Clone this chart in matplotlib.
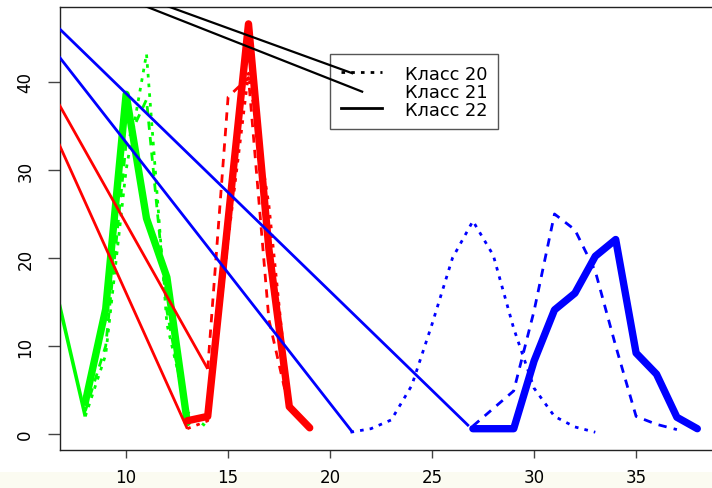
import matplotlib
matplotlib.use("Agg")
from matplotlib import pyplot as plt
from matplotlib.lines import Line2D
from matplotlib.patches import Rectangle

# class 20 = dotted, class 21 = dashed, class 22 = thick solid
green_x20 = [8, 9, 10, 11, 12, 13, 14]
green_y20 = [2.0, 9.0, 30.0, 43.2, 12.5, 2.5, 0.7]
green_x21 = [8, 9, 10, 11, 12, 13]
green_y21 = [2.6, 10.0, 33.0, 38.0, 14.0, 1.5]
green_x22 = [8, 9, 10, 11, 12, 13]
green_y22 = [3.6, 14.2, 38.6, 24.5, 17.8, 1.3]

red_x20 = [13, 14, 15, 16, 17, 18, 19]
red_y20 = [0.6, 1.5, 22.0, 41.0, 26.0, 3.2, 0.8]
red_x21 = [14, 15, 16, 17, 18]
red_y21 = [7.4, 38.3, 40.5, 13.0, 2.8]
red_x22 = [13, 14, 15, 16, 17, 18, 19]
red_y22 = [1.5, 2.0, 24.3, 46.6, 21.0, 3.1, 0.7]

blue_x20 = [21, 22, 23, 24, 25, 26, 27, 28, 29, 30, 31, 32, 33]
blue_y20 = [0.2, 0.6, 1.6, 5.5, 12.5, 20.0, 24.2, 20.3, 12.0, 5.2, 2.0, 0.8, 0.2]
blue_x21 = [27, 28, 29, 30, 31, 32, 33, 34, 35, 36, 37]
blue_y21 = [0.9, 2.9, 4.9, 14.0, 25.0, 23.2, 18.5, 10.0, 2.0, 1.1, 0.5]
blue_x22 = [27, 28, 29, 30, 31, 32, 33, 34, 35, 36, 37, 38]
blue_y22 = [0.6, 0.6, 0.6, 8.3, 14.1, 16.0, 20.2, 22.1, 9.2, 6.8, 1.9, 0.6]

# straight thin lines that come in from the left edge
conn_green = [([6.0, 8.0], [22.0, 2.0])]
conn_red = [([6.0, 14.0], [40.4, 7.4]), ([6.0, 13.0], [36.6, 0.6])]
conn_blue = [([6.0, 26.8], [47.7, 0.9]), ([6.0, 21.1], [45.0, 0.2])]
conn_black = [([8.0, 21.57], [51.3, 38.9]), ([8.0, 21.08], [52.0, 41.0])]

labels = ["Класс 20", "Класс 21", "Класс 22"]

DOT = (0, (1.3, 2.2))
DASH = (0, (3.0, 2.6))

fig = plt.figure(figsize=(7.12, 4.89), dpi=100)
fig.patches.append(Rectangle((0, 0), 1, 16 / 489, transform=fig.transFigure,
                             facecolor="#fbfbf1", edgecolor="none", zorder=-10))
ax = fig.add_axes([60 / 712, 38 / 489, 683 / 712, 443 / 489])

groups = [
    ("#00ff00", green_x20, green_y20, green_x21, green_y21, green_x22, green_y22, conn_green, 2.6),
    ("#ff0000", red_x20, red_y20, red_x21, red_y21, red_x22, red_y22, conn_red, 2.0),
    ("#0000ff", blue_x20, blue_y20, blue_x21, blue_y21, blue_x22, blue_y22, conn_blue, 2.0),
]
z = 2
for col, x20, y20, x21, y21, x22, y22, conns, clw in groups:
    for cx, cy in conns:
        ax.plot(cx, cy, color=col, lw=clw, zorder=z, solid_capstyle="butt")
    ax.plot(x20, y20, color=col, lw=2.0, linestyle=DOT, dash_capstyle="butt", zorder=z)
    ax.plot(x21, y21, color=col, lw=2.0, linestyle=DASH, dash_capstyle="butt", zorder=z)
    ax.plot(x22, y22, color=col, lw=5.3, solid_capstyle="round",
            solid_joinstyle="round", zorder=z + 0.5)
    z += 1

handles = [
    Line2D([], [], color="black", lw=2.0, linestyle=DOT, dash_capstyle="butt"),
    Line2D([], [], color="black", lw=2.0, linestyle="none"),
    Line2D([], [], color="black", lw=2.0),
]
leg = ax.legend(handles, labels, loc="upper left",
                bbox_to_anchor=(330 / 712, 1 - 55 / 489), bbox_transform=fig.transFigure,
                borderaxespad=0, fontsize=12.8, handlelength=2.3, handletextpad=1.3,
                labelspacing=0.0, borderpad=0.6, fancybox=False, framealpha=1,
                edgecolor="#555555")
leg.get_frame().set_linewidth(1.0)
leg.set_zorder(8)

for cx, cy in conn_black:
    ax.plot(cx, cy, color="black", lw=1.6, zorder=9)

ax.set_xlim(6.76, 40.24)
ax.set_ylim(-1.82, 48.52)
ax.set_xticks([10, 15, 20, 25, 30, 35])
ax.set_yticks([0, 10, 20, 30, 40])
ax.tick_params(axis="x", direction="out", length=6, width=1.0, pad=7, labelsize=12, color="#444444")
ax.tick_params(axis="y", direction="out", length=8.5, width=1.0, pad=10, labelsize=12,
               labelrotation=90, color="#444444")
for lab in ax.get_yticklabels():
    lab.set_va("center")
for s in ax.spines.values():
    s.set_linewidth(1.0)
    s.set_color("#222222")

fig.savefig("out.png", dpi=100)
